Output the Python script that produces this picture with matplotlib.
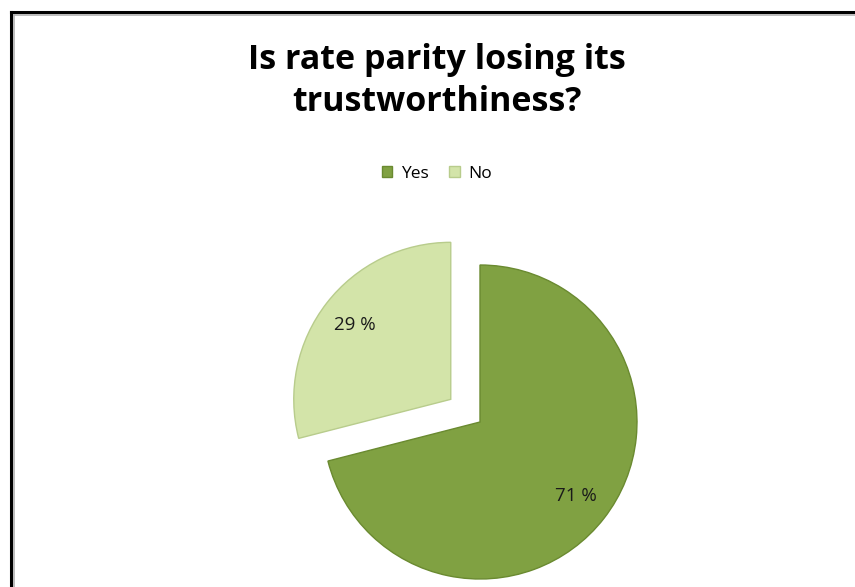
import matplotlib
matplotlib.use("Agg")
import matplotlib.pyplot as plt
from matplotlib.lines import Line2D
from matplotlib.patches import Patch

categories = ["Yes", "No"]
values = [71, 29]
colors = ["#80a142", "#d3e4a9"]
edge_colors = ["#6a8a30", "#b8cc8c"]
title = "Is rate parity losing its\ntrustworthiness?"

W, H = 855, 587
fig = plt.figure(figsize=(W / 100, H / 100), dpi=100)
fig.patch.set_facecolor("white")

# frame lines (top and left)
fig.add_artist(Line2D([11 / W, 1], [1 - 12 / H, 1 - 12 / H], color="black", lw=2.2, transform=fig.transFigure))
fig.add_artist(Line2D([11 / W, 11 / W], [0, 1 - 12 / H], color="black", lw=2.2, transform=fig.transFigure))
fig.add_artist(Line2D([14 / W, 1], [1 - 15 / H, 1 - 15 / H], color="#b0b0b0", lw=1.2, transform=fig.transFigure))
fig.add_artist(Line2D([14 / W, 14 / W], [0, 1 - 15 / H], color="#b0b0b0", lw=1.2, transform=fig.transFigure))

ax = fig.add_axes([0, 0, 1, 1])

R = 157
wedges, texts, autotexts = ax.pie(
    values,
    colors=colors,
    startangle=90,
    counterclock=False,
    explode=[0, 37],
    radius=R,
    center=(480, H - 422),
    autopct=lambda p: f"{p:.0f} %",
    pctdistance=0.77,
    wedgeprops=dict(linewidth=1.0),
    textprops=dict(fontsize=13.5, family="Open Sans", color="#1a1a1a"),
    frame=True,
)
for w, ec in zip(wedges, edge_colors):
    w.set_edgecolor(ec)
ax.set_xlim(0, W)
ax.set_ylim(0, H)
ax.set_aspect("equal")
ax.axis("off")

fig.text(437 / W, 1 - 81 / H, title, ha="center", va="center", fontsize=24.5,
         fontweight="bold", family="Open Sans", linespacing=1.3)

handles = [Patch(facecolor=c, edgecolor=e) for c, e in zip(colors, edge_colors)]
fig.legend(handles, categories, loc="center", bbox_to_anchor=(437 / W, 1 - 174 / H),
           ncol=2, frameon=False, prop=dict(family="Open Sans", size=12.5),
           handlelength=0.6, handleheight=0.6, handletextpad=0.5, columnspacing=1.2)

fig.savefig("out.png", dpi=100, facecolor="white")
